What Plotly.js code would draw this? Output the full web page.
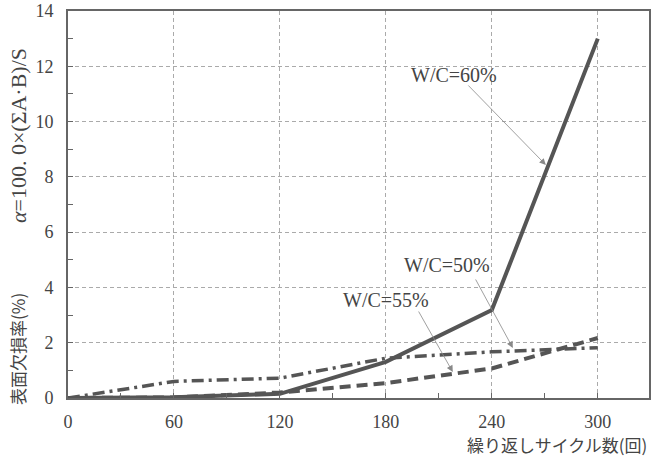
<!DOCTYPE html>
<html><head><meta charset="utf-8">
<script src="https://cdn.plot.ly/plotly-3.0.1.min.js"></script>
<style>body{margin:0;background:#fff}#c{width:652px;height:463px}</style>
</head><body><div id="c"></div>
<script>
const cycles = [0, 60, 120, 180, 240, 300];
const wc60 = [0, 0.03, 0.15, 1.31, 3.18, 13.0];
const wc50 = [0, 0.6, 0.72, 1.44, 1.67, 1.82];
const wc55 = [0, 0.02, 0.2, 0.54, 1.07, 2.17];
const xTicks = [0, 60, 120, 180, 240, 300];
const yTicks = [0, 2, 4, 6, 8, 10, 12, 14];
const labels = ['W/C=60%', 'W/C=50%', 'W/C=55%'];
const xTitle = '繰り返しサイクル数(回)';
const yTitle1 = '表面欠損率(%)';
const yTitle2 = '<i>α</i>=100. 0×(ΣA·B)/S';

const lineCol = '#555';
const traces = [
  {x: cycles, y: wc60, mode: 'lines', line: {color: lineCol, width: 4}},
  {x: cycles, y: wc50, mode: 'lines', line: {color: lineCol, width: 3.5, dash: '12px,5px,3px,5px'}},
  {x: cycles, y: wc55, mode: 'lines', line: {color: lineCol, width: 4, dash: '11px,6px'}}
];
const serif = 'Liberation Serif, DejaVu Serif, serif';
const txtFont = {family: serif, size: 20, color: '#444'};
const arrow = (x, y, ax, ay) => ({x, y, ax, ay, xref: 'x', yref: 'y', text: '', showarrow: true,
  arrowhead: 2, arrowsize: 1.6, arrowwidth: 0.8, arrowcolor: '#888'});
const axisCommon = {
  showgrid: true, gridcolor: '#aaa', griddash: '4px,3px', gridwidth: 1,
  showline: true, linecolor: '#666', linewidth: 2, mirror: true,
  ticks: 'inside', ticklen: 5, tickcolor: '#666',
  tickfont: {family: serif, size: 18, color: '#444'}, zeroline: false
};
const layout = {
  width: 652, height: 463,
  margin: {l: 68, r: 3, t: 11, b: 65},
  paper_bgcolor: '#fff', plot_bgcolor: '#fff',
  showlegend: false,
  xaxis: Object.assign({}, axisCommon, {range: [0, 329], tickvals: xTicks, ticktext: xTicks.map(String),
    minor: {dtick: 30, ticks: 'inside', ticklen: 5, tickcolor: '#666', showgrid: false},
    ticklabelstandoff: 6}),
  yaxis: Object.assign({}, axisCommon, {range: [0, 14], tickvals: yTicks, ticktext: yTicks.map(String),
    minor: {dtick: 1, ticks: 'inside', ticklen: 5, tickcolor: '#666', showgrid: false},
    ticklabelstandoff: 9}),
  annotations: [
    arrow(270.6, 8.43, -79, -81),
    arrow(251.9, 1.81, -38, -70),
    arrow(217.9, 0.94, -35, -62),
    {x: 218.5, y: 11.68, xref: 'x', yref: 'y', text: labels[0], showarrow: false, font: txtFont},
    {x: 214.5, y: 4.81, xref: 'x', yref: 'y', text: labels[1], showarrow: false, font: txtFont},
    {x: 180, y: 3.54, xref: 'x', yref: 'y', text: labels[2], showarrow: false, font: txtFont},
    {x: 1, y: -0.121, xref: 'paper', yref: 'paper', xanchor: 'right', yanchor: 'middle', text: xTitle, showarrow: false,
      font: {family: 'Noto Sans CJK JP', size: 17, color: '#444'}},
    {x: -0.086, y: 0.127, xref: 'paper', yref: 'paper', xanchor: 'center', yanchor: 'middle', text: yTitle1, textangle: -90, showarrow: false,
      font: {family: 'Noto Sans CJK JP', size: 17, color: '#444'}},
    {x: -0.086, y: 0.677, xref: 'paper', yref: 'paper', xanchor: 'center', yanchor: 'middle', text: yTitle2, textangle: -90, showarrow: false,
      font: {family: serif, size: 22, color: '#444'}}
  ]
};
Plotly.newPlot('c', traces, layout, {displayModeBar: false, staticPlot: true});
</script></body></html>
